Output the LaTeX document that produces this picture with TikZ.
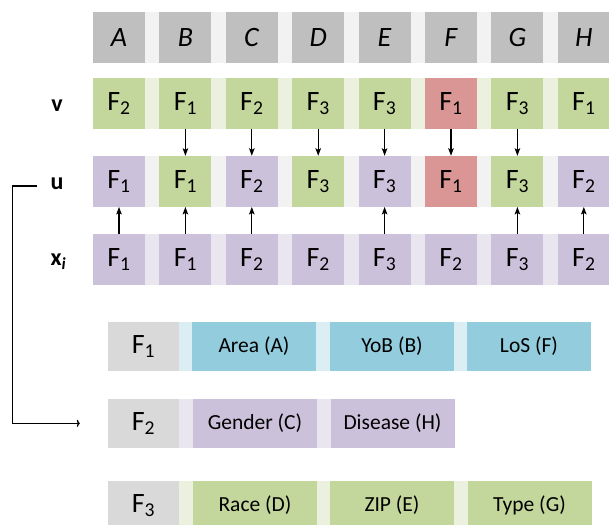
\documentclass[tikz,border=0pt]{standalone}
\usepackage{fontspec}
\setmainfont{Carlito}
\usetikzlibrary{arrows.meta}

\definecolor{hdrcell}{HTML}{BFBFBF}
\definecolor{hdrstrip}{HTML}{F2F2F2}
\definecolor{grncell}{HTML}{C3D69B}
\definecolor{grnstrip}{HTML}{EBF1DE}
\definecolor{redcell}{HTML}{D99694}
\definecolor{lavcell}{HTML}{CCC1DA}
\definecolor{lavstrip}{HTML}{EAE6F0}
\definecolor{bluecell}{HTML}{93CDDD}
\definecolor{bluestrip}{HTML}{DAEEF3}
\definecolor{keycell}{HTML}{D9D9D9}

\tikzset{
  cell/.style={minimum width=52pt, minimum height=50.7pt, inner sep=0pt,
    font=\fontsize{28}{32}\selectfont},
  keybox/.style={minimum width=71pt, minimum height=48.7pt, inner sep=0pt,
    fill=keycell, font=\fontsize{28}{32}\selectfont},
  itembox/.style={minimum width=124pt, minimum height=48.7pt, inner sep=0pt,
    font=\fontsize{21.5}{25}\selectfont},
  rowlabel/.style={inner sep=0pt, font=\fontsize{24}{28}\selectfont\bfseries},
  arr/.style={-{Stealth[length=7.5pt,width=5.5pt,inset=1.5pt]}, line width=1.3pt},
  brk/.style={-{To[length=3pt,width=7pt]}, line width=1.3pt},
}

\begin{document}
\begin{tikzpicture}[x=1pt,y=-1pt]
\useasboundingbox (0,0) rectangle (609,524);
\clip (0,0) rectangle (609,524);

% background strips behind each row of cells
\fill[hdrstrip] (93,12)    rectangle (609,62.7);
\fill[grnstrip] (93,78)    rectangle (609,128.7);
\fill[hdrstrip] (93,156)   rectangle (609,206.7);
\fill[lavstrip] (93,234)   rectangle (609,284.7);
\fill[bluestrip] (108,322) rectangle (591,370.7);
\fill[lavstrip]  (108,399) rectangle (454.4,447.7);
\fill[grnstrip]  (108,481) rectangle (591,529.7);

% attribute columns: header, v, u and x_i rows
\foreach \c/\v/\vc/\u/\uc/\xv [count=\i from 0] in
  {A/2/grncell/1/lavcell/1,
   B/1/grncell/1/grncell/1,
   C/2/grncell/2/lavcell/2,
   D/3/grncell/3/grncell/2,
   E/3/grncell/3/lavcell/3,
   F/1/redcell/1/redcell/2,
   G/3/grncell/3/grncell/3,
   H/1/grncell/2/lavcell/2}
{
  \pgfmathsetmacro{\cx}{119+66.4*\i}
  \node[cell, fill=hdrcell] (h\c) at (\cx,37.35)  {\textit{\c}};
  \node[cell, fill=\vc]     (v\c) at (\cx,103.35) {F\textsubscript{\v}};
  \node[cell, fill=\uc]     (u\c) at (\cx,181.35) {F\textsubscript{\u}};
  \node[cell, fill=lavcell] (x\c) at (\cx,259.35) {F\textsubscript{\xv}};
}

% row labels
\node[rowlabel] (lv) at (57,105.5) {v};
\node[rowlabel] (lu) at (57,184) {u};
\node[rowlabel] (lx) at (58.5,261.5) {x\textsubscript{\textit{i}}};

% v -> u
\foreach \c in {B,C,D,E,F,G} \draw[arr] (v\c) -- (u\c);
% x_i -> u
\foreach \c in {A,B,C,E,G,H} \draw[arr] (x\c) -- (u\c);

% function groups
\node[keybox] (k1) at (143.5,346.35) {F\textsubscript{1}};
\node[itembox, fill=bluecell] (k1a) at (254,346.35) {Area (A)};
\node[itembox, fill=bluecell] (k1b) at (392,346.35) {YoB (B)};
\node[itembox, fill=bluecell] (k1c) at (529,346.35) {LoS (F)};

\node[keybox] (k2) at (143.5,423.35) {F\textsubscript{2}};
\node[itembox, fill=lavcell] (k2a) at (255,423.35) {Gender (C)};
\node[itembox, fill=lavcell] (k2b) at (392.5,423.35) {Disease (H)};

\node[keybox] (k3) at (143.5,505.35) {F\textsubscript{3}};
\node[itembox, fill=grncell] (k3a) at (255,505.35) {Race (D)};
\node[itembox, fill=grncell] (k3b) at (392,505.35) {ZIP (E)};
\node[itembox, fill=grncell] (k3c) at (529.5,505.35) {Type (G)};

% bracket from u to the F2 group
\coordinate (bstart) at ([xshift=-13pt,yshift=-2pt]lu.west);
\coordinate (bend) at ([xshift=-28pt]k2.west);
\draw[brk] (bstart) -- (12.7,186) |- (bend);
\end{tikzpicture}
\end{document}
